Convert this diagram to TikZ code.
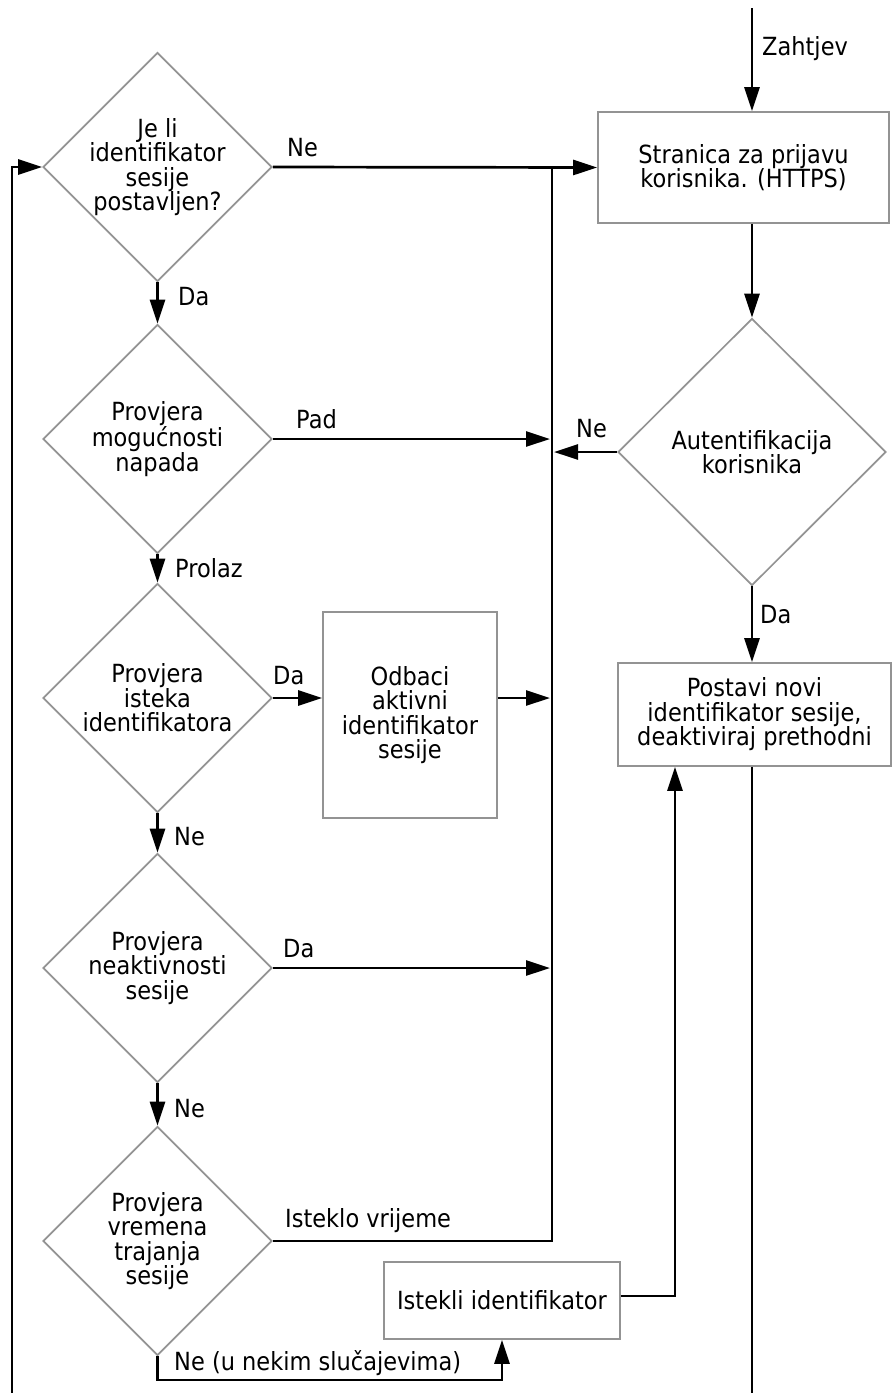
\documentclass[tikz,border=0pt]{standalone}
\usepackage{fontspec}
\setmainfont{DejaVu Sans}[FakeStretch=0.9]
\usetikzlibrary{shapes.geometric,arrows.meta,calc}
\newcommand{\diafs}{\fontsize{25}{24.5}\selectfont}
\tikzset{
  dec/.style={diamond,draw=gray!85!white,line width=1.7pt,inner sep=0pt,minimum width=229pt,minimum height=229pt},
  decbig/.style={dec,minimum width=268pt,minimum height=267pt},
  proc/.style={rectangle,draw=gray!85!white,line width=1.7pt,inner sep=0pt,align=center},
  conn/.style={line width=2.7pt,black},
  arr/.style={conn,-{Triangle[length=24pt,width=15pt]}},
  lbl/.style={anchor=base west,inner sep=0pt},
  dtext/.style={align=center,inner sep=0pt}
}
\begin{document}
\begin{tikzpicture}[x=1pt,y=-1pt,font=\diafs]
\useasboundingbox (0,0) rectangle (893,1393);
% decisions
\node[dec,label={[dtext]center:Je li\\identifikator\\sesije\\postavljen?}] (d1) at (157.5,167) {};
\node[dec,label={[dtext]center:Provjera\\mogućnosti\\napada}] (d2) at (157.5,439) {};
\node[dec,label={[dtext]center:Provjera\\isteka\\identifikatora}] (d3) at (157.5,698) {};
\node[dec,label={[dtext]center:Provjera\\neaktivnosti\\sesije}] (d4) at (157.5,968) {};
\node[dec,label={[dtext]center:Provjera\\vremena\\trajanja\\sesije}] (d5) at (157.5,1241) {};
\node[decbig,label={[dtext]center:Autentifikacija\\korisnika}] (auth) at (752,452) {};
% processes
\node[proc,minimum width=291pt,minimum height=111pt] (str) at (743.5,167.5) {Stranica za prijavu\\korisnika. (HTTPS)};
\node[proc,minimum width=174pt,minimum height=206pt] (odb) at (410,715) {Odbaci\\aktivni\\identifikator\\sesije};
\node[proc,minimum width=273pt,minimum height=103pt] (post) at (754.5,714.5) {Postavi novi\\identifikator sesije,\\deaktiviraj prethodni};
\node[proc,minimum width=236pt,minimum height=77pt] (ist) at (502,1300.5) {Istekli identifikator};
% helper coordinates
\coordinate (zin) at (752,8);
\coordinate (jtop) at (552,167);
\coordinate (jpad) at (550,439);
\coordinate (jauth) at (554,452);
\coordinate (jodb) at (550,698);
\coordinate (jneak) at (550,968);
\coordinate (loopb) at (12,1393);
\coordinate (postb) at (752,1393);
\coordinate (d5b) at (157.5,1380);
\coordinate (istr) at (675,1296);
% connectors
\draw[arr] (zin) -- (zin |- str.north);
\draw[arr] (zin |- str.south) -- (auth.north);
\draw[arr] (auth.south) -- (auth.south |- post.north);
\draw[arr] (auth.west) -- (jauth);
\draw[arr] (d1.east) -- (str.west);
\draw[arr] (d1.south) -- (d2.north);
\draw[arr] (d2.south) -- (d3.north);
\draw[arr] (d3.south) -- (d4.north);
\draw[arr] (d4.south) -- (d5.north);
\draw[arr] (d2.east) -- (jpad);
\draw[arr] (d3.east) -- (d3.east -| odb.west);
\draw[arr] (odb.east |- d3.east) -- (jodb);
\draw[arr] (d4.east) -- (jneak);
\draw[conn] (d5.east) -| (jtop);
\draw[arr] (d5.south) -- (d5b) -| (ist.south);
\draw[arr] (ist.east |- istr) -- (istr) -- (istr |- post.south);
\draw[conn] (postb |- post.south) -- (postb);
\draw[arr] (loopb) |- (d1.west);
% labels
\node[lbl] (l1) at (287,156) {Ne};
\node[lbl] (l2) at (178,305) {Da};
\node[lbl] (l3) at (762,55) {Zahtjev};
\node[lbl] (l4) at (296,428) {Pad};
\node[lbl] (l5) at (576,437) {Ne};
\node[lbl] (l6) at (175,577) {Prolaz};
\node[lbl] (l7) at (273,684) {Da};
\node[lbl] (l8) at (760,623) {Da};
\node[lbl] (l9) at (174,845) {Ne};
\node[lbl] (l10) at (283,957) {Da};
\node[lbl] (l11) at (174,1117) {Ne};
\node[lbl] (l12) at (285,1227) {Isteklo vrijeme};
\node[lbl] (l13) at (174,1370) {Ne (u nekim slučajevima)};
\end{tikzpicture}
\end{document}
